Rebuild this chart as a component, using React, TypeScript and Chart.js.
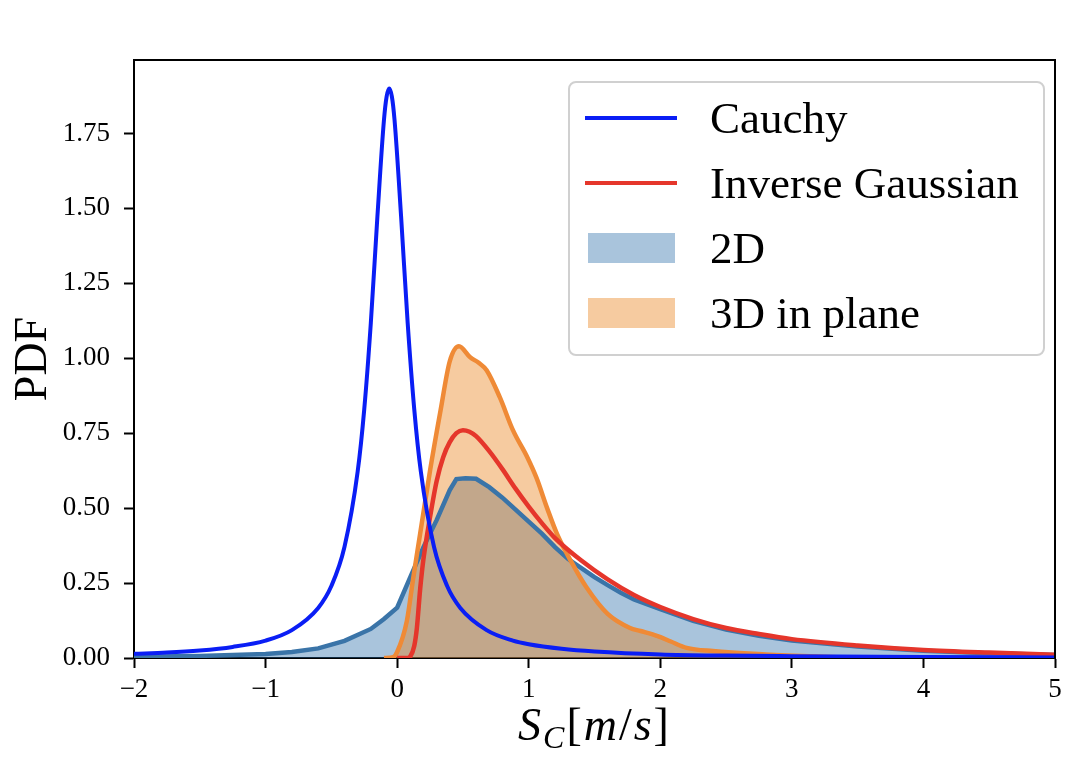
import { useEffect, useRef } from "react";
import { Chart, registerables, type ChartConfiguration, type Plugin } from "chart.js";

Chart.register(...registerables);

// Cauchy fit (blue line)
const cauchyX = [
  -2, -1.75, -1.5, -1.25, -1, -0.8, -0.6, -0.5, -0.4, -0.3, -0.25, -0.2, -0.15, -0.1, -0.08, -0.06, -0.04,
  -0.02, 0.03, 0.08, 0.13, 0.18, 0.28, 0.38, 0.48, 0.68, 0.88, 1.0, 1.25, 1.5, 2, 2.5, 3, 4, 5,
];
const cauchyY = [
  0.014, 0.018, 0.025, 0.037, 0.058, 0.093, 0.167, 0.24, 0.371, 0.622, 0.83, 1.118, 1.473, 1.796, 1.873, 1.9,
  1.873, 1.796, 1.473, 1.118, 0.83, 0.622, 0.371, 0.24, 0.167, 0.093, 0.058, 0.046, 0.031, 0.022, 0.012, 0.008,
  0.006, 0.003, 0.002,
];

// Inverse Gaussian fit (red line)
const invGaussX = [
  0, 0.08, 0.1, 0.13, 0.15, 0.175, 0.2, 0.25, 0.3, 0.35, 0.4, 0.45, 0.5, 0.55, 0.6, 0.7, 0.8, 0.9, 1.0, 1.1, 1.2,
  1.4, 1.6, 1.8, 2.0, 2.25, 2.5, 2.75, 3.0, 3.5, 4.0, 4.5, 5.0,
];
const invGaussY = [
  0, 0, 0.005, 0.04, 0.1, 0.23, 0.33, 0.47, 0.59, 0.67, 0.72, 0.75, 0.76, 0.755, 0.74, 0.69, 0.63, 0.565, 0.505,
  0.45, 0.4, 0.325, 0.262, 0.21, 0.17, 0.13, 0.1, 0.08, 0.063, 0.042, 0.027, 0.018, 0.011,
];

// 2D histogram envelope
const hist2dX = [
  -2, -1.5, -1, -0.8, -0.6, -0.4, -0.2, -0.1, 0, 0.1, 0.2, 0.3, 0.4, 0.45, 0.52, 0.6, 0.7, 0.8, 0.9, 1.0, 1.1, 1.2,
  1.3, 1.4, 1.5, 1.6, 1.7, 1.8, 2.0, 2.25, 2.5, 2.75, 3.0, 3.5, 4.0, 4.5, 5.0,
];
const hist2dY = [
  0.004, 0.007, 0.013, 0.02, 0.032, 0.057, 0.097, 0.13, 0.168, 0.27, 0.37, 0.46, 0.56, 0.597, 0.6, 0.598, 0.57,
  0.535, 0.495, 0.455, 0.415, 0.37, 0.33, 0.3, 0.27, 0.243, 0.218, 0.195, 0.163, 0.124, 0.095, 0.074, 0.058,
  0.038, 0.024, 0.016, 0.01,
];

// 3D in-plane histogram envelope
const hist3dX = [
  -0.1, -0.03, 0.0, 0.074, 0.12, 0.175, 0.25, 0.33, 0.4, 0.47, 0.555, 0.62, 0.68, 0.78, 0.88, 0.99, 1.06, 1.14,
  1.215, 1.32, 1.44, 1.6, 1.77, 1.85, 1.98, 2.08, 2.2, 2.4, 2.8, 3.2, 3.6, 5,
];
const hist3dY = [
  0, 0.003, 0.02, 0.124, 0.26, 0.415, 0.625, 0.826, 0.99, 1.04, 1.003, 0.985, 0.96, 0.87, 0.76, 0.669, 0.6, 0.5,
  0.414, 0.324, 0.235, 0.147, 0.1, 0.09, 0.073, 0.055, 0.034, 0.023, 0.012, 0.005, 0, 0,
];

const SERIF = '"Liberation Serif", "Times New Roman", serif';

const toPoints = (xs: number[], ys: number[]) => xs.map((x, i) => ({ x, y: ys[i] }));

const minus = (v: number) => (v < 0 ? "\u2212" + Math.abs(v) : String(v));

// spines on top/right + axis titles
const decorations: Plugin<"line"> = {
  id: "decorations",
  afterDraw(chart) {
    const { ctx, chartArea: a } = chart;
    ctx.save();
    ctx.strokeStyle = "#000";
    ctx.lineWidth = 2;
    ctx.beginPath();
    ctx.moveTo(a.left, a.top);
    ctx.lineTo(a.right, a.top);
    ctx.lineTo(a.right, a.bottom);
    ctx.stroke();

    // y title
    ctx.fillStyle = "#000";
    ctx.font = `46px ${SERIF}`;
    ctx.textAlign = "center";
    ctx.textBaseline = "alphabetic";
    ctx.translate(46, (a.top + a.bottom) / 2);
    ctx.rotate(-Math.PI / 2);
    ctx.fillText("PDF", 0, 0);
    ctx.restore();

    // x title S_C[m/s]
    ctx.save();
    ctx.fillStyle = "#000";
    ctx.textAlign = "left";
    ctx.textBaseline = "alphabetic";
    const big = 46;
    const parts = [
      { t: "S", f: `italic ${big}px ${SERIF}`, dy: 0 },
      { t: "C", f: `italic 32px ${SERIF}`, dy: 8 },
      { t: "[", f: `${big}px ${SERIF}`, dy: 0 },
      { t: "m", f: `italic ${big}px ${SERIF}`, dy: 0 },
      { t: "/", f: `${big}px ${SERIF}`, dy: 0 },
      { t: "s", f: `italic ${big}px ${SERIF}`, dy: 0 },
      { t: "]", f: `${big}px ${SERIF}`, dy: 0 },
    ];
    let total = 0;
    const widths = parts.map((p) => {
      ctx.font = p.f;
      const w = ctx.measureText(p.t).width + 2;
      total += w;
      return w;
    });
    let x = (a.left + a.right) / 2 - total / 2;
    parts.forEach((p, i) => {
      ctx.font = p.f;
      ctx.fillText(p.t, x, 740 + p.dy);
      x += widths[i];
    });
    ctx.restore();
  },
};

// legend box inside the axes, upper right
const insideLegend: Plugin<"line"> = {
  id: "insideLegend",
  afterDraw(chart) {
    const { ctx, chartArea: a } = chart;
    const w = 475;
    const h = 273;
    const left = a.right - 11 - w;
    const top = a.top + 22;
    ctx.save();
    ctx.fillStyle = "rgba(255,255,255,0.85)";
    ctx.strokeStyle = "#d0d0d0";
    ctx.lineWidth = 2;
    ctx.beginPath();
    ctx.roundRect(left, top, w, h, 7);
    ctx.fill();
    ctx.stroke();

    ctx.font = `45px ${SERIF}`;
    ctx.textAlign = "left";
    ctx.textBaseline = "alphabetic";
    chart.data.datasets.forEach((ds: any, i) => {
      const cy = top + 36 + i * 65;
      if (ds.fill) {
        ctx.fillStyle = ds.backgroundColor;
        ctx.fillRect(left + 19, cy - 15, 87, 30);
      } else {
        ctx.strokeStyle = ds.borderColor;
        ctx.lineWidth = 4;
        ctx.beginPath();
        ctx.moveTo(left + 16, cy);
        ctx.lineTo(left + 108, cy);
        ctx.stroke();
      }
      ctx.fillStyle = "#000";
      ctx.fillText(ds.label, left + 141, cy + 15);
    });
    ctx.restore();
  },
};

export default function App() {
  const canvasRef = useRef<HTMLCanvasElement | null>(null);
  const chartRef = useRef<Chart<"line"> | null>(null);

  useEffect(() => {
    document.body.style.margin = "0";
    const canvas = canvasRef.current;
    if (!canvas) {
      return;
    }
    chartRef.current?.destroy();

    const tickFont = { family: SERIF, size: 27 };

    const config: ChartConfiguration<"line"> = {
      type: "line",
      data: {
        datasets: [
          {
            label: "Cauchy",
            data: toPoints(cauchyX, cauchyY),
            borderColor: "#0a1ef5",
            borderWidth: 4,
            pointRadius: 0,
            cubicInterpolationMode: "monotone",
            fill: false,
            order: 0,
          },
          {
            label: "Inverse Gaussian",
            data: toPoints(invGaussX, invGaussY),
            borderColor: "#e5362b",
            borderWidth: 4.5,
            pointRadius: 0,
            cubicInterpolationMode: "monotone",
            fill: false,
            order: 1,
          },
          {
            label: "2D",
            data: toPoints(hist2dX, hist2dY),
            borderColor: "#3a74a8",
            backgroundColor: "rgba(40,108,168,0.4)",
            borderWidth: 4.5,
            pointRadius: 0,
            fill: "origin",
            order: 3,
          },
          {
            label: "3D in plane",
            data: toPoints(hist3dX, hist3dY),
            borderColor: "#ef8a36",
            backgroundColor: "rgba(233,125,18,0.4)",
            borderWidth: 4.5,
            pointRadius: 0,
            cubicInterpolationMode: "monotone",
            fill: "origin",
            order: 2,
          },
        ],
      },
      options: {
        responsive: true,
        maintainAspectRatio: false,
        animation: false,
        layout: { padding: { top: 60, right: 30, left: 0, bottom: 0 } },
        plugins: {
          legend: { display: false },
          tooltip: { enabled: false },
          filler: { drawTime: "beforeDatasetsDraw" },
        },
        scales: {
          x: {
            type: "linear",
            min: -2,
            max: 5,
            afterFit(scale) {
              scale.height = 104;
            },
            ticks: {
              stepSize: 1,
              includeBounds: false,
              color: "#000",
              font: tickFont,
              padding: 6,
              maxRotation: 0,
              callback(value) {
                return minus(Number(value));
              },
            },
            grid: {
              drawOnChartArea: false,
              drawTicks: true,
              tickLength: 10,
              tickWidth: 2,
              tickColor: "#000",
            },
            border: { color: "#000", width: 2 },
          },
          y: {
            type: "linear",
            min: 0,
            max: 1.995,
            afterFit(scale) {
              scale.width = 134;
            },
            ticks: {
              stepSize: 0.25,
              includeBounds: false,
              color: "#000",
              font: tickFont,
              padding: 14,
              callback(value) {
                return Number(value).toFixed(2);
              },
            },
            grid: {
              drawOnChartArea: false,
              drawTicks: true,
              tickLength: 10,
              tickWidth: 2,
              tickColor: "#000",
            },
            border: { color: "#000", width: 2 },
          },
        },
      },
      plugins: [decorations, insideLegend],
    };

    chartRef.current = new Chart(canvas, config);

    return () => {
      chartRef.current?.destroy();
      chartRef.current = null;
    };
  }, []);

  return (
    <div style={{ position: "relative", width: 1085, height: 762, background: "#fff" }}>
      <canvas ref={canvasRef} />
    </div>
  );
}
